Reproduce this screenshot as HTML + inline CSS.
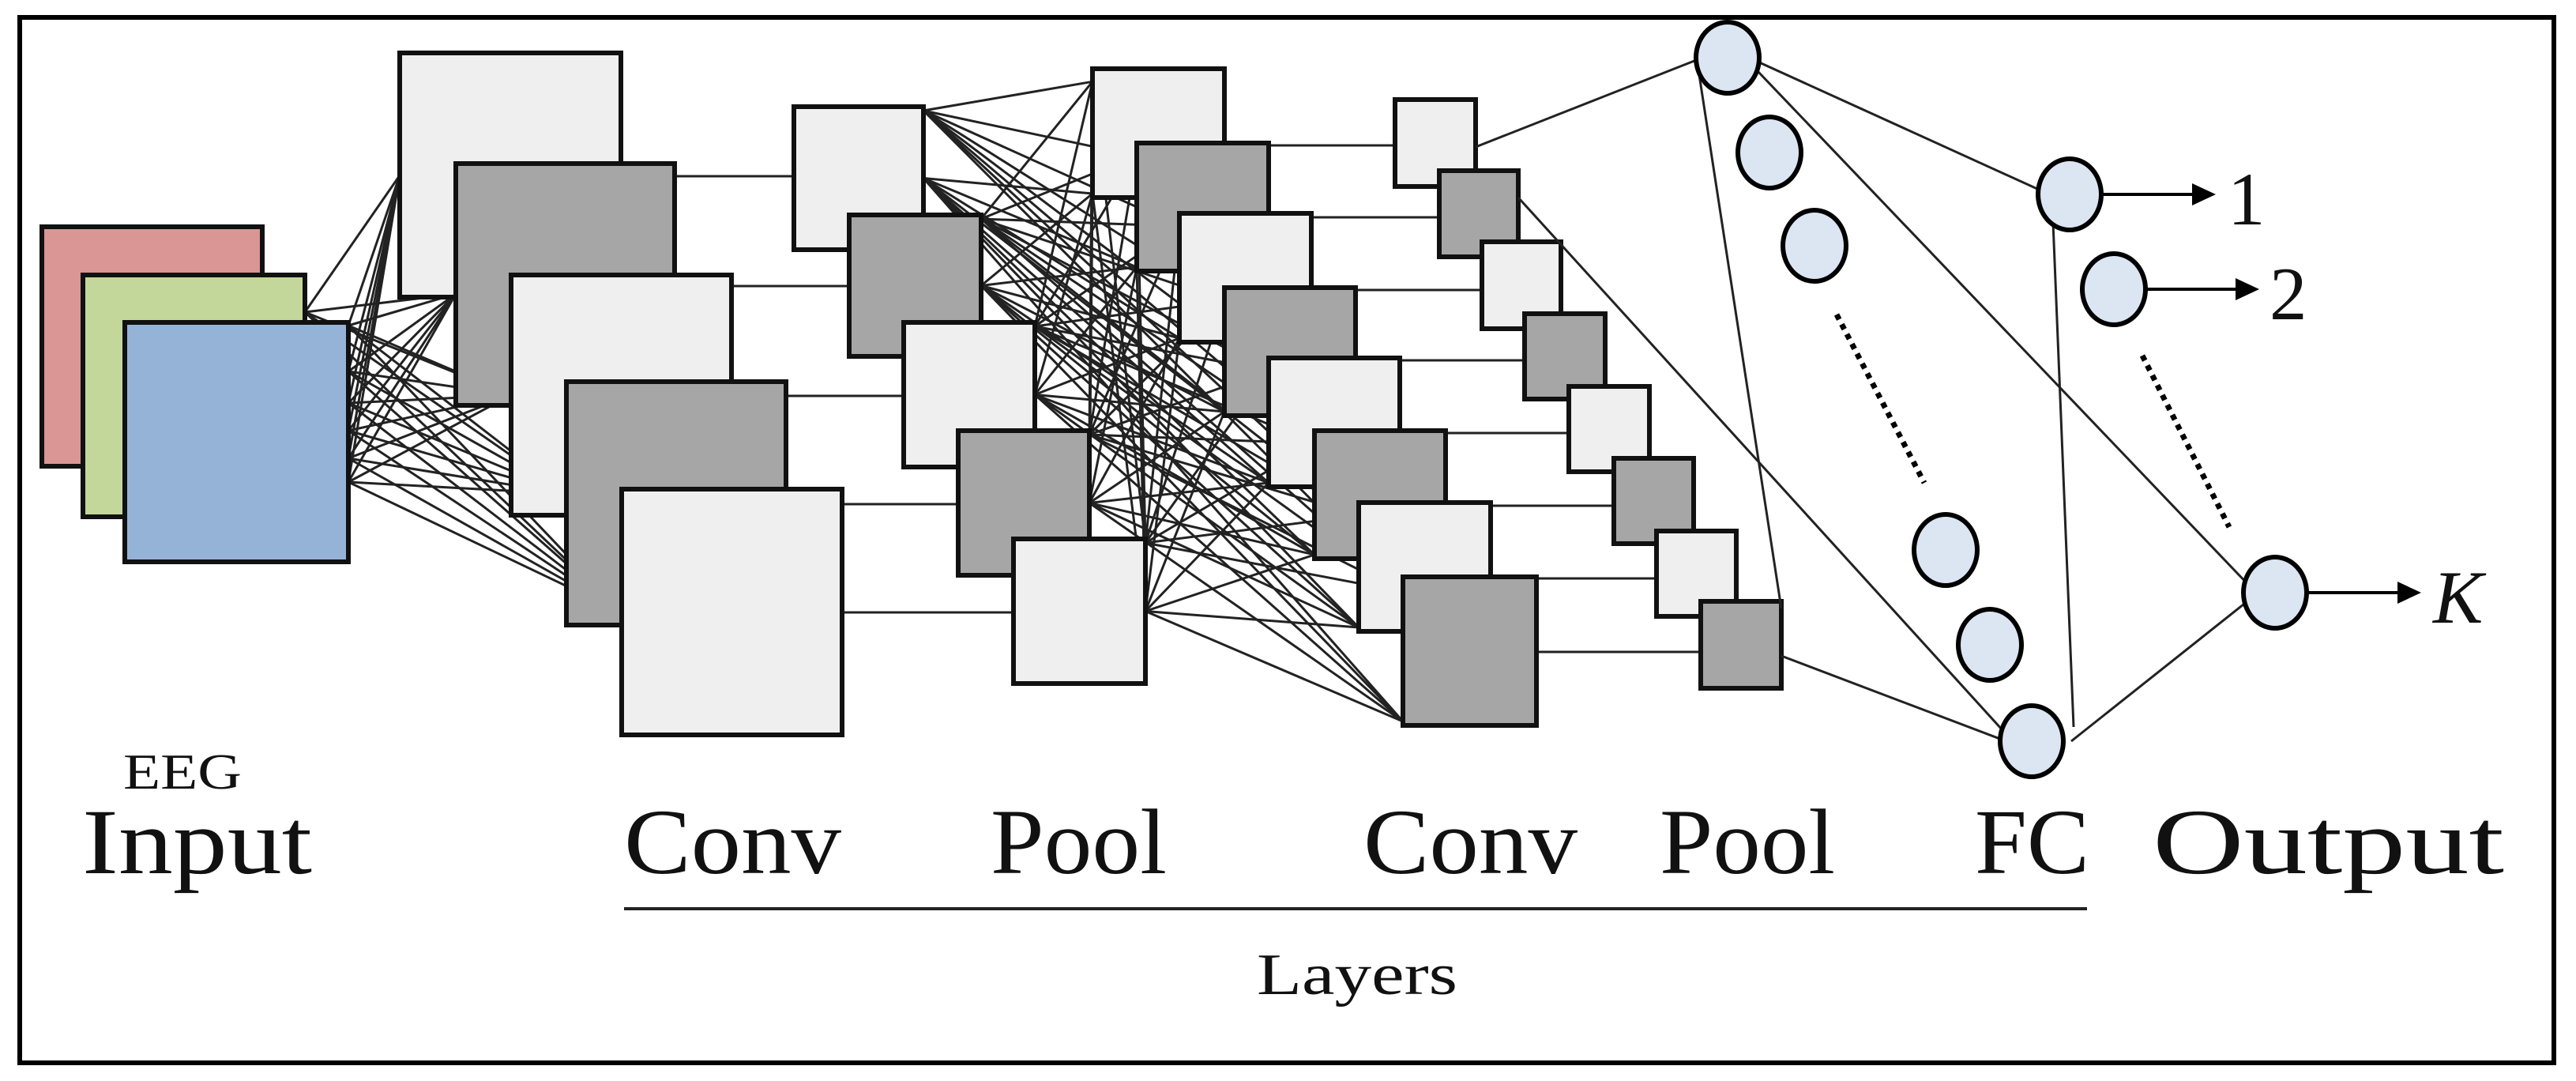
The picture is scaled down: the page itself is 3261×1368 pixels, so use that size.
<!DOCTYPE html>
<html><head><meta charset="utf-8"><style>html,body{margin:0;padding:0;background:#fff}svg{display:block}</style></head>
<body>
<svg id="s" width="3261" height="1368" viewBox="0 0 3261 1368" xmlns="http://www.w3.org/2000/svg">
<rect x="0" y="0" width="3261" height="1368" fill="#fff"/>
<rect x="25" y="22" width="3208" height="1323" fill="none" stroke="#000" stroke-width="6"/>
<g id="lines" stroke="#222" stroke-width="3" fill="none"></g>
<g id="boxes" stroke="#111" stroke-width="6"></g>
<g id="nn" stroke="#222" stroke-width="3" fill="none">
<line x1="1868" y1="186" x2="2150" y2="75"/>
<line x1="1922" y1="250" x2="2545" y2="935"/>
<line x1="2255" y1="830" x2="2545" y2="940"/>
<line x1="2150" y1="88" x2="2255" y2="770"/>
<line x1="2225" y1="78" x2="2590" y2="244"/>
<line x1="2225" y1="90" x2="2850" y2="744"/>
<line x1="2598" y1="257" x2="2625" y2="920"/>
<line x1="2622" y1="938" x2="2850" y2="757"/>
</g>
<g stroke="#000" stroke-width="7" stroke-dasharray="7,7" fill="none">
<line x1="2325" y1="398" x2="2436" y2="611"/>
<line x1="2712" y1="450" x2="2822" y2="667"/>
</g>
<g fill="#dce6f2" stroke="#000" stroke-width="6">
<ellipse cx="2187" cy="73" rx="40" ry="45"/>
<ellipse cx="2240" cy="193" rx="40" ry="45"/>
<ellipse cx="2297" cy="311" rx="40" ry="45"/>
<ellipse cx="2463" cy="696" rx="40" ry="45"/>
<ellipse cx="2519" cy="816" rx="40" ry="45"/>
<ellipse cx="2572" cy="938" rx="40" ry="45"/>
<ellipse cx="2620" cy="246" rx="40" ry="45"/>
<ellipse cx="2676" cy="366" rx="40" ry="45"/>
<ellipse cx="2880" cy="750" rx="40" ry="45"/>
</g>
<g stroke="#000" stroke-width="4">
<line x1="2662" y1="246" x2="2780" y2="246"/>
<line x1="2718" y1="366" x2="2835" y2="366"/>
<line x1="2922" y1="750" x2="3040" y2="750"/>
</g>
<g fill="#000">
<polygon points="2805,246 2775,232 2775,260"/>
<polygon points="2860,366 2830,352 2830,380"/>
<polygon points="3065,750 3035,736 3035,764"/>
</g>
<g font-family="Liberation Serif, serif" fill="#111">
<text x="2820" y="284" font-size="95">1</text>
<text x="2873" y="404" font-size="95">2</text>
<text x="3080" y="788" font-size="95" font-style="italic">K</text>
<text x="156" y="998" font-size="64" textLength="150" lengthAdjust="spacingAndGlyphs">EEG</text>
<text x="104" y="1105" font-size="118" textLength="291" lengthAdjust="spacingAndGlyphs">Input</text>
<text x="790" y="1105" font-size="118" textLength="275" lengthAdjust="spacingAndGlyphs">Conv</text>
<text x="1254" y="1105" font-size="118" textLength="223" lengthAdjust="spacingAndGlyphs">Pool</text>
<text x="1726" y="1105" font-size="118" textLength="271" lengthAdjust="spacingAndGlyphs">Conv</text>
<text x="2101" y="1105" font-size="118" textLength="222" lengthAdjust="spacingAndGlyphs">Pool</text>
<text x="2500" y="1105" font-size="118" textLength="145" lengthAdjust="spacingAndGlyphs">FC</text>
<text x="2725" y="1105" font-size="118" textLength="445" lengthAdjust="spacingAndGlyphs">Output</text>
<text x="1591" y="1258" font-size="74" textLength="254" lengthAdjust="spacingAndGlyphs">Layers</text>
</g>
<line x1="790" y1="1150" x2="2642" y2="1150" stroke="#222" stroke-width="4"/>
</svg>
<script>
var NS="http://www.w3.org/2000/svg";
var L=document.getElementById("lines"),B=document.getElementById("boxes");
function ln(a,b,c,d){var e=document.createElementNS(NS,"line");e.setAttribute("x1",a);e.setAttribute("y1",b);e.setAttribute("x2",c);e.setAttribute("y2",d);L.appendChild(e);}
function bx(x1,y1,x2,y2,f){var e=document.createElementNS(NS,"rect");e.setAttribute("x",x1);e.setAttribute("y",y1);e.setAttribute("width",x2-x1);e.setAttribute("height",y2-y1);e.setAttribute("fill",f);B.appendChild(e);}
var LI="#efefef",DK="#a6a6a6";
var conv1=[[506,67,786,376,LI],[577,207,854,513,DK],[647,348,926,652,LI],[717,483,995,791,DK],[787,619,1066,930,LI]];
var pool1=[[1005,135,1169,316,LI],[1075,272,1242,451,DK],[1144,408,1310,591,LI],[1213,545,1379,728,DK],[1283,682,1450,865,LI]];
var conv2=[[1383,87,1550,250,LI],[1439,181,1606,343,DK],[1493,270,1660,433,LI],[1550,364,1716,526,DK],[1606,453,1772,616,LI],[1664,545,1830,707,DK],[1720,636,1887,799,LI],[1776,730,1945,918,DK]];
var pool2=[[1766,126,1868,236,LI],[1822,216,1922,325,DK],[1876,306,1976,416,LI],[1930,397,2032,505,DK],[1986,489,2088,597,LI],[2043,580,2144,688,DK],[2097,672,2198,780,LI],[2153,761,2255,871,DK]];
var src=[[386,395],[441,412],[441,470],[441,510],[441,545],[441,580],[441,610]];
var tgt=[[506,222],[577,372],[647,500],[717,625],[787,775]];
src.forEach(function(s){tgt.forEach(function(t){ln(s[0],s[1],t[0],t[1]);});});
[223,362,501,638,775].forEach(function(y,i){ln(conv1[i][2]-10,y,pool1[i][0]+10,y);});
pool1.forEach(function(p){var sy=[p[1]+5,p[1]+(p[3]-p[1])*0.5];
 conv2.forEach(function(c){ln(p[2],sy[0],c[0],c[1]+(c[3]-c[1])*0.1);ln(p[2],sy[1],c[0],c[3]-5);});});
[184,275,367,456,548,640,732,825].forEach(function(y,i){ln(conv2[i][2]-10,y,pool2[i][0]+10,y);});
[[53,287,332,590,"#d99694"],[105,348,386,654,"#c4d79b"],[158,408,441,711,"#95b3d7"]].concat(conv1,pool1,conv2,pool2).forEach(function(r){bx(r[0],r[1],r[2],r[3],r[4]);});
</script>
</body></html>
